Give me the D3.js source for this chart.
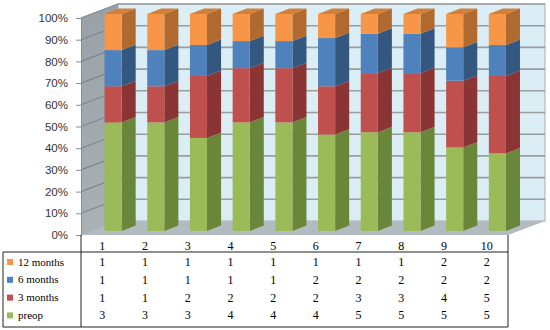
<!DOCTYPE html>
<html><head><meta charset="utf-8">
<script src="https://cdn.jsdelivr.net/npm/d3@7/dist/d3.min.js"></script>
<style>
html,body{margin:0;padding:0;background:#fff;}
svg{display:block;}
</style></head>
<body>
<svg id="chart" width="550" height="330"></svg>
<script>
const categories = ["1","2","3","4","5","6","7","8","9","10"];
const seriesNames = ["preop","3 months","6 months","12 months"];
const preop    = [3,3,3,4,4,4,5,5,5,5];
const months3  = [1,1,2,2,2,2,3,3,4,5];
const months6  = [1,1,1,1,1,2,2,2,2,2];
const months12 = [1,1,1,1,1,1,1,1,2,2];
const yTicks = [0,0.1,0.2,0.3,0.4,0.5,0.6,0.7,0.8,0.9,1.0];

const seriesValues = [preop, months3, months6, months12];
const front = ["#9BBB59","#C0504D","#4F81BD","#F79646"];
const side  = ["#6A8639","#8A3533","#34577F","#B06A2F"];
const topC  = ["#83A04A","#A24240","#3F6A9C","#D27F3C"];

const svg = d3.select("#chart");
const X0 = 81, X1 = 508, Y0 = 235, Y1 = 18;
const DX = 37, DY = -14;
const fa = 0.29, fb = 0.67;

const x = d3.scaleBand().domain(categories).range([X0, X1]).padding(0);
const y = d3.scaleLinear().domain([0,1]).range([Y0, Y1]);

// back wall
svg.append("rect").attr("x", X0+DX).attr("y", Y1+DY).attr("width", X1-X0).attr("height", Y0-Y1)
  .attr("fill","#DBEEF5").attr("stroke","#A8AEB2").attr("stroke-width",1);
// side wall
const grad = svg.append("defs").append("linearGradient").attr("id","sw").attr("x1","0").attr("y1","0").attr("x2","0").attr("y2","1");
grad.append("stop").attr("offset","0").attr("stop-color","#97A1A7");
grad.append("stop").attr("offset","1").attr("stop-color","#A7B1B6");
svg.append("path").attr("d", `M${X0},${Y0}L${X0},${Y1}L${X0+DX},${Y1+DY}L${X0+DX},${Y0+DY}Z`)
  .attr("fill","url(#sw)");
// floor
svg.append("path").attr("d", `M${X0},${Y0}L${X1},${Y0}L${X1+DX},${Y0+DY}L${X0+DX},${Y0+DY}Z`)
  .attr("fill","#B2BBC0");

// gridlines
yTicks.forEach(t => {
  const yy = y(t);
  if (t > 0) {
    svg.append("line").attr("x1", X0+DX).attr("x2", X1+DX).attr("y1", yy+DY).attr("y2", yy+DY)
      .attr("stroke","#9A9EA1").attr("stroke-width",1.6);
  }
  svg.append("line").attr("x1", X0).attr("x2", X0+DX).attr("y1", yy).attr("y2", yy+DY)
    .attr("stroke", t===0 ? "#A9B1B5" : "#7E878C").attr("stroke-width",1.2);
});
svg.append("line").attr("x1", X0).attr("x2", X0+DX).attr("y1", Y1).attr("y2", Y1+DY)
  .attr("stroke","#8D969B").attr("stroke-width",1);

// bars
const barW = x.bandwidth()*0.40;
const totals = categories.map((c,i) => seriesValues.reduce((s,arr)=>s+arr[i],0));
categories.forEach((c,i) => {
  const cx = x(c) + x.bandwidth()/2;
  const fx = cx - barW/2 + DX*fa;
  const dxs = DX*(fb-fa), dys = DY*(fb-fa);
  let cum = 0;
  seriesValues.forEach((arr,si) => {
    const v0 = cum / totals[i];
    cum += arr[i];
    const v1 = cum / totals[i];
    const yb = y(v0) + DY*fa, yt = y(v1) + DY*fa;
    const g = svg.append("g");
    g.append("path").attr("d", `M${fx+barW},${yb}L${fx+barW},${yt}L${fx+barW+dxs},${yt+dys}L${fx+barW+dxs},${yb+dys}Z`)
      .attr("fill", side[si]);
    g.append("rect").attr("x", fx).attr("y", yt).attr("width", barW).attr("height", yb-yt)
      .attr("fill", front[si]);
    if (si === seriesValues.length-1) {
      g.append("path").attr("d", `M${fx},${yt}L${fx+barW},${yt}L${fx+barW+dxs},${yt+dys}L${fx+dxs},${yt+dys}Z`)
        .attr("fill", topC[si]);
    }
  });
});

// y axis
const yAxis = d3.axisLeft(y).tickValues(yTicks).tickFormat(d3.format(".0%")).tickSize(5).tickPadding(8);
const ga = svg.append("g").attr("transform", `translate(${X0},0)`).call(yAxis);
ga.select(".domain").attr("stroke","#8C8C8C");
ga.selectAll(".tick line").attr("stroke","#8C8C8C");
ga.selectAll(".tick text").attr("font-family","'Liberation Sans', Arial, sans-serif").attr("font-size","11.5px").attr("fill","#333");

// data table
const tableTop = 252, tableBot = 327, legLeft = 3;
const tbl = svg.append("g").attr("font-family","'Liberation Serif','Times New Roman',serif").attr("fill","#000");
tbl.append("line").attr("x1", legLeft).attr("x2", X1).attr("y1", tableTop).attr("y2", tableTop).attr("stroke","#222");
tbl.append("line").attr("x1", legLeft).attr("x2", X1).attr("y1", tableBot).attr("y2", tableBot).attr("stroke","#222");
tbl.append("line").attr("x1", legLeft).attr("x2", legLeft).attr("y1", tableTop).attr("y2", tableBot).attr("stroke","#222");
tbl.append("line").attr("x1", X0).attr("x2", X0).attr("y1", Y0).attr("y2", tableBot).attr("stroke","#222");
tbl.append("line").attr("x1", X1).attr("x2", X1).attr("y1", Y0).attr("y2", tableBot).attr("stroke","#222");

// header
categories.forEach(c => {
  tbl.append("text").attr("x", x(c)+x.bandwidth()/2).attr("y", 250).attr("text-anchor","middle")
    .attr("font-size","12px").text(c);
});
// rows: top to bottom 12 months, 6 months, 3 months, preop
const rowOrder = [3,2,1,0];
rowOrder.forEach((si, r) => {
  const cy = 262 + r*17.8;
  tbl.append("rect").attr("x", 7).attr("y", cy-3).attr("width", 6).attr("height", 6).attr("fill", front[si]);
  tbl.append("text").attr("x", 18).attr("y", cy+3.5).attr("font-size","11px").text(seriesNames[si]);
  seriesValues[si].forEach((v,i) => {
    tbl.append("text").attr("x", x(categories[i])+x.bandwidth()/2).attr("y", cy+4)
      .attr("text-anchor","middle").attr("font-size","12px").text(v);
  });
});
</script>
</body></html>
